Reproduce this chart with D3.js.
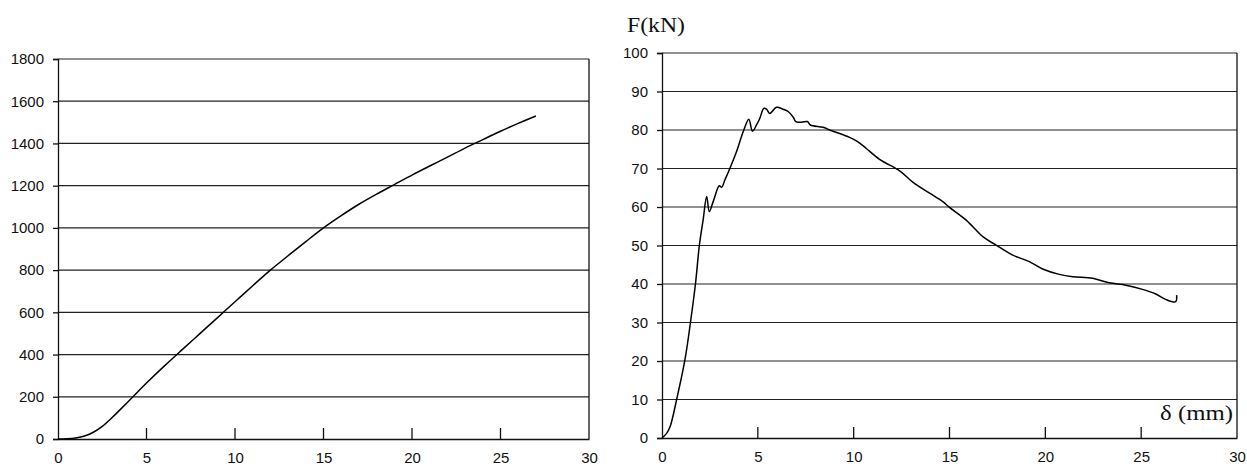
<!DOCTYPE html>
<html>
<head>
<meta charset="utf-8">
<script src="https://cdn.jsdelivr.net/npm/d3@7"></script>
<style>
  html, body { margin: 0; padding: 0; background: #fff; }
  svg { display: block; }
</style>
</head>
<body>
<svg id="chart" width="1247" height="468"></svg>
<script>
// ---- Data ----
const xTicks = [0, 5, 10, 15, 20, 25, 30];
const leftYTicks = [0, 200, 400, 600, 800, 1000, 1200, 1400, 1600, 1800];
const rightYTicks = [0, 10, 20, 30, 40, 50, 60, 70, 80, 90, 100];

const leftX = [0, 0.5, 1, 1.5, 2, 2.5, 3, 3.5, 4, 4.5, 5, 6, 7, 8, 9, 10, 11, 12, 13, 14, 15, 16, 17, 18, 19, 20, 21, 22, 23, 24, 25, 26, 27];
const leftY = [0, 1, 5, 14, 32, 60, 97, 138, 180, 223, 265, 345, 422, 498, 574, 650, 726, 800, 868, 935, 1000, 1058, 1112, 1160, 1205, 1250, 1293, 1335, 1378, 1418, 1458, 1495, 1530];

const rightX = [0, 0.24, 0.42, 0.76, 1.2, 1.49, 1.75, 1.95, 2.15, 2.33, 2.47, 2.67, 2.99, 3.11, 3.28, 3.54, 3.89, 4.24, 4.53, 4.72, 4.93, 5.1, 5.31, 5.45, 5.62, 5.97, 6.32, 6.58, 6.85, 6.98, 7.28, 7.59, 7.74, 8.4, 8.75, 9.79, 10.2, 10.66, 11.35, 12.4, 13.1, 13.96, 14.65, 15.0, 15.87, 16.74, 17.43, 18.3, 19.17, 19.86, 20.73, 21.43, 22.47, 23.33, 24.2, 25.07, 25.76, 26.28, 26.8, 26.85];
const rightY = [0, 1.2, 2.9, 9.9, 20.4, 30.2, 40.2, 50.1, 56.8, 62.7, 58.8, 61.4, 65.5, 65.1, 67, 70, 74.4, 79.6, 82.8, 79.7, 81.3, 83, 85.6, 85.4, 84.3, 85.9, 85.4, 84.8, 83.3, 82.2, 82.0, 82.2, 81.3, 80.7, 80, 78.1, 77, 75.2, 72.4, 69.4, 66.4, 63.6, 61.4, 59.9, 56.6, 52.3, 50.1, 47.5, 45.8, 43.9, 42.5, 41.9, 41.5, 40.3, 39.7, 38.6, 37.4, 36.0, 35.4, 37.1];

const yLabelText = "F(kN)";
const xLabelText = "δ (mm)";

// ---- Drawing ----
const svg = d3.select("#chart");
const tickFont = "'Liberation Sans', Arial, sans-serif";
const serifFont = "'Liberation Serif', 'Times New Roman', serif";

function panel(opts) {
  const { x0, x1, yTop, yBot, yMax, yTicks, xs, ys } = opts;
  const x = d3.scaleLinear().domain([0, 30]).range([x0, x1]);
  const y = d3.scaleLinear().domain([0, yMax]).range([yBot, yTop]);
  const g = svg.append("g");

  // gridlines
  g.selectAll("line.grid").data(yTicks.filter(d => d > 0)).join("line")
    .attr("x1", x0).attr("x2", x1)
    .attr("y1", d => y(d)).attr("y2", d => y(d))
    .attr("stroke", "#222").attr("stroke-width", 1.2);

  // right border
  g.append("line").attr("x1", x1).attr("x2", x1).attr("y1", y(yMax)).attr("y2", yBot)
    .attr("stroke", "#111").attr("stroke-width", 1.3);

  // y axis
  const yAxis = d3.axisLeft(y).tickValues(yTicks).tickFormat(d3.format("d")).tickSize(5).tickPadding(9);
  const ya = g.append("g").attr("transform", `translate(${x0},0)`).call(yAxis);
  ya.select(".domain").attr("stroke", "#111").attr("stroke-width", 1.3);
  ya.selectAll(".tick line").attr("stroke", "#111").attr("stroke-width", 1.3);
  ya.selectAll("text").attr("font-family", tickFont).attr("font-size", 15).attr("fill", "#111");

  // x axis (ticks inward)
  const xAxis = d3.axisBottom(x).tickValues(xTicks).tickFormat(d3.format("d")).tickSize(0).tickPadding(13);
  const xa = g.append("g").attr("transform", `translate(0,${yBot})`).call(xAxis);
  xa.select(".domain").attr("stroke", "#111").attr("stroke-width", 1.3);
  xa.selectAll("text").attr("font-family", tickFont).attr("font-size", 15).attr("fill", "#111");
  g.selectAll("line.xt").data(xTicks.filter(d => d > 0 && d < 30)).join("line")
    .attr("x1", d => x(d)).attr("x2", d => x(d))
    .attr("y1", yBot + 1).attr("y2", yBot - 11)
    .attr("stroke", "#111").attr("stroke-width", 1.3);

  // curve
  const pts = xs.map((v, i) => [v, ys[i]]);
  g.append("path").datum(pts)
    .attr("fill", "none").attr("stroke", "#000").attr("stroke-width", 1.5)
    .attr("stroke-linejoin", "round")
    .attr("d", d3.line().x(d => x(d[0])).y(d => y(d[1])).curve(d3.curveCatmullRom.alpha(0.5)));
  return { x, y, g };
}

panel({ x0: 58, x1: 589, yTop: 59, yBot: 439, yMax: 1800, yTicks: leftYTicks, xs: leftX, ys: leftY });
panel({ x0: 662, x1: 1237, yTop: 53, yBot: 438, yMax: 100, yTicks: rightYTicks, xs: rightX, ys: rightY });

svg.append("text").attr("x", 627).attr("y", 32)
  .attr("font-family", serifFont).attr("font-size", 21).attr("fill", "#111")
  .attr("textLength", 58).attr("lengthAdjust", "spacingAndGlyphs")
  .text(yLabelText);

svg.append("rect").attr("x", 1157).attr("y", 400).attr("width", 78).attr("height", 30).attr("fill", "#fff");
svg.append("text").attr("x", 1160).attr("y", 420)
  .attr("font-family", serifFont).attr("font-size", 21).attr("fill", "#111")
  .attr("textLength", 73).attr("lengthAdjust", "spacingAndGlyphs")
  .text(xLabelText);
</script>
</body>
</html>
